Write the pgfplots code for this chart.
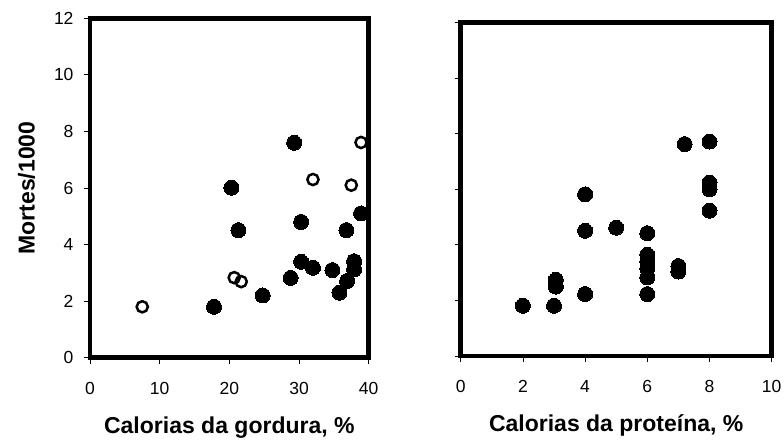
\documentclass[border=0pt]{standalone}
\usepackage{pgfplots}
\pgfplotsset{compat=1.18}
\usepackage{fontspec}
\setmainfont{Liberation Sans}
\newcommand{\tk}{\fontsize{17.5bp}{20bp}\selectfont}
\begin{document}
\begin{tikzpicture}
\useasboundingbox (0bp,0bp) rectangle (784bp,441bp);
\pgfplotsset{
  myax/.style={
    scale only axis,
    anchor=south west,
    axis line style={line width=4.5bp},
    tick style={line width=0.8bp, black},
    tick align=outside,
    major tick length=6bp,
    xtick pos=bottom, ytick pos=left,
    ymin=0, ymax=12, ytick={0,2,...,12},
    clip=false,
    xticklabel={\mbox{\tk\pgfmathprintnumber[assume math mode=true]{\tick}}},
    xticklabel style={yshift=-15bp},
    yticklabel style={xshift=-7bp},
    label style={font=\bfseries\fontsize{23bp}{26bp}\selectfont},
  },
  filled/.style={only marks, mark=*, mark size=7.5bp, mark options={fill=black, draw=black, line width=0pt}},
  open/.style={only marks, mark=o, mark size=5.6bp, mark options={draw=black, fill=white, line width=2.5bp}},
}
\begin{axis}[myax,
  at={(90bp,83.3bp)}, width=278.7bp, height=339.4bp,
  xmin=0, xmax=40, xtick={0,10,...,40},
  yticklabel={\mbox{\tk\pgfmathprintnumber[assume math mode=true]{\tick}}},
  xlabel={Calorias da gordura, \%},
  ylabel={Mortes/1000},
  xlabel style={yshift=-15bp},
  ylabel style={yshift=12bp},
]
\addplot[filled] coordinates {
(29.3,7.60) (20.3,6.01) (21.3,4.51) (30.3,4.80) (38.9,5.10) (36.8,4.51)
(30.3,3.39) (32.0,3.18) (34.8,3.10) (37.9,3.41) (37.9,3.12) (36.9,2.71)
(35.8,2.30) (28.8,2.82) (24.8,2.20) (17.8,1.80)
};
\addplot[open] coordinates {
(38.9,7.61) (32.0,6.30) (37.5,6.10) (20.7,2.83) (21.7,2.69) (7.5,1.80)
};
\end{axis}
\begin{axis}[myax,
  at={(460.7bp,85bp)}, width=311bp, height=333.3bp,
  xmin=0, xmax=10, xtick={0,2,...,10},
  yticklabels={},
  xlabel={Calorias da proteína, \%},
  xlabel style={yshift=-15bp},
]
\addplot[filled] coordinates {
(2,1.81) (3,1.81) (3.06,2.74) (3.06,2.50) (4,2.23) (4,4.51) (4,5.82)
(5,4.62) (6,4.42) (6,3.64) (6,3.40) (6,3.16) (6,2.83) (6,2.23)
(7,3.24) (7,3.04) (7.2,7.63) (8,7.72) (8,6.24) (8,6.00) (8,5.23)
};
\end{axis}
\end{tikzpicture}
\end{document}
